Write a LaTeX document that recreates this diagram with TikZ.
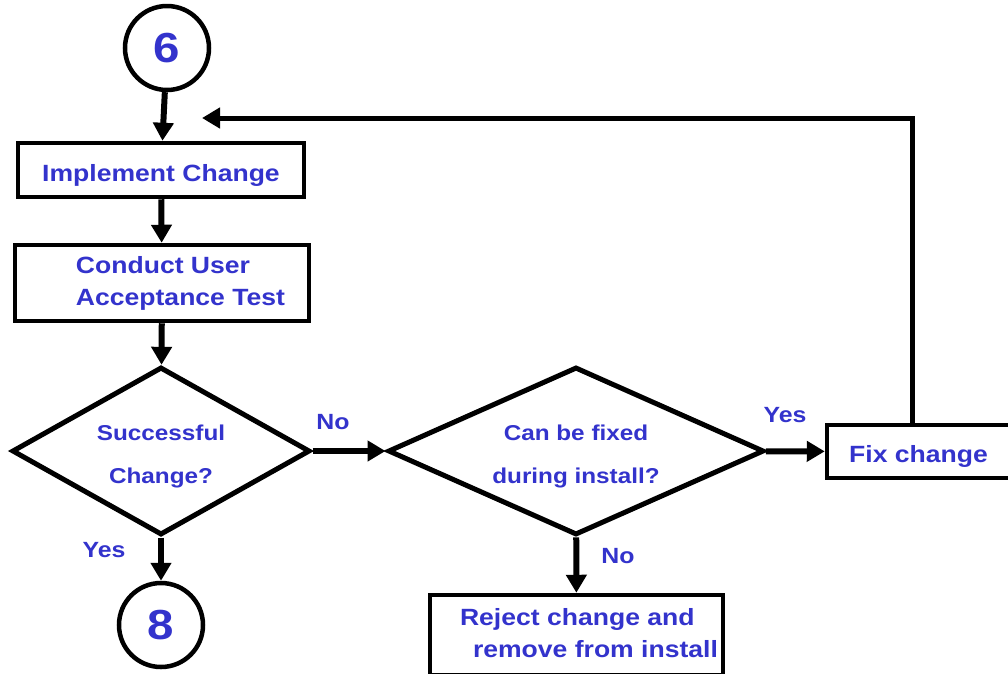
\documentclass[tikz,border=0pt]{standalone}
\usepackage{fontspec}
\setmainfont{Liberation Sans}[FakeStretch=1.13]
\usetikzlibrary{shapes.geometric,arrows.meta}
\definecolor{txtblue}{RGB}{51,51,204}
\tikzset{
	box/.style={draw, rectangle, line width=4.5pt, inner sep=0pt, text=txtblue, font=\bfseries\fontsize{23.5}{32}\selectfont},
	oneline/.style={text height=22pt, text depth=0pt},
	twoline/.style={align=left, text depth=4pt},
	decision/.style={draw, diamond, shape aspect=2, line width=5pt, inner sep=0pt, text height=64pt, text depth=0pt, align=center, text=txtblue, font=\bfseries\fontsize{21.5}{43}\selectfont},
	pagecircle/.style={draw, circle, line width=4.5pt, minimum size=84pt, inner sep=0pt, text=txtblue, font=\bfseries\fontsize{42}{42}\selectfont},
	answer/.style={text=txtblue, font=\bfseries\fontsize{22}{22}\selectfont},
	flow/.style={line width=6pt, -{Triangle[length=18pt,width=20pt]}},
}

\begin{document}
\begin{tikzpicture}[x=1pt, y=-1pt]
			%%%%% START %%%%%
			\useasboundingbox (0, 0) rectangle (1008, 673);
			\clip (0, 0) rectangle (1008, 673);
			
			\node[pagecircle] (six) at (167, 48) {6};
			\node[box, oneline, minimum width=286pt, minimum height=54pt] (implement) at (161, 170) {Implement Change};
			\node[box, twoline, minimum width=294pt, minimum height=76pt] (conduct) at (162, 283) {\hspace*{37pt}Conduct User\\\hspace*{37pt}Acceptance Test};
			
			\node[decision, minimum width=298pt, minimum height=168pt] (success) at (161, 451) {Successful\\Change?};
			\node[decision, minimum width=376pt, minimum height=168pt] (fixable) at (576, 451) {Can be fixed\\during install?};
			
			\node[box, oneline, minimum width=183pt, minimum height=53pt] (fix) at (918.5, 451.5) {Fix change};
			\node[box, twoline, minimum width=293pt, minimum height=80pt] (reject) at (576.5, 635) {\hspace*{25pt}Reject change and\\\hspace*{38pt}remove from install};
			\node[pagecircle] (eight) at (161, 625) {8};
			
			\node[answer] (no1) at (333, 422) {No};
			\node[answer] (yes1) at (104, 550) {Yes};
			\node[answer] (yes2) at (785, 415) {Yes};
			\node[answer] (no2) at (618, 556) {No};
			
			\draw[flow] (six) -- (implement);
			\draw[flow] (implement) -- (conduct);
			\draw[flow] (conduct) -- (success);
			\draw[flow] (success) -- (eight);
			\draw[flow] (success) -- (fixable);
			\draw[flow] (fixable) -- (fix);
			\draw[flow] (fixable) -- (reject);
			
			% loop back from the fix
			\coordinate (corner) at (912, 118);
			\coordinate (backtip) at (202, 118);
			\draw[flow, line width=5pt] (corner |- fix.north) -- (corner) -- (backtip);
			
			%%%%% END %%%%%
\end{tikzpicture}
\end{document}
